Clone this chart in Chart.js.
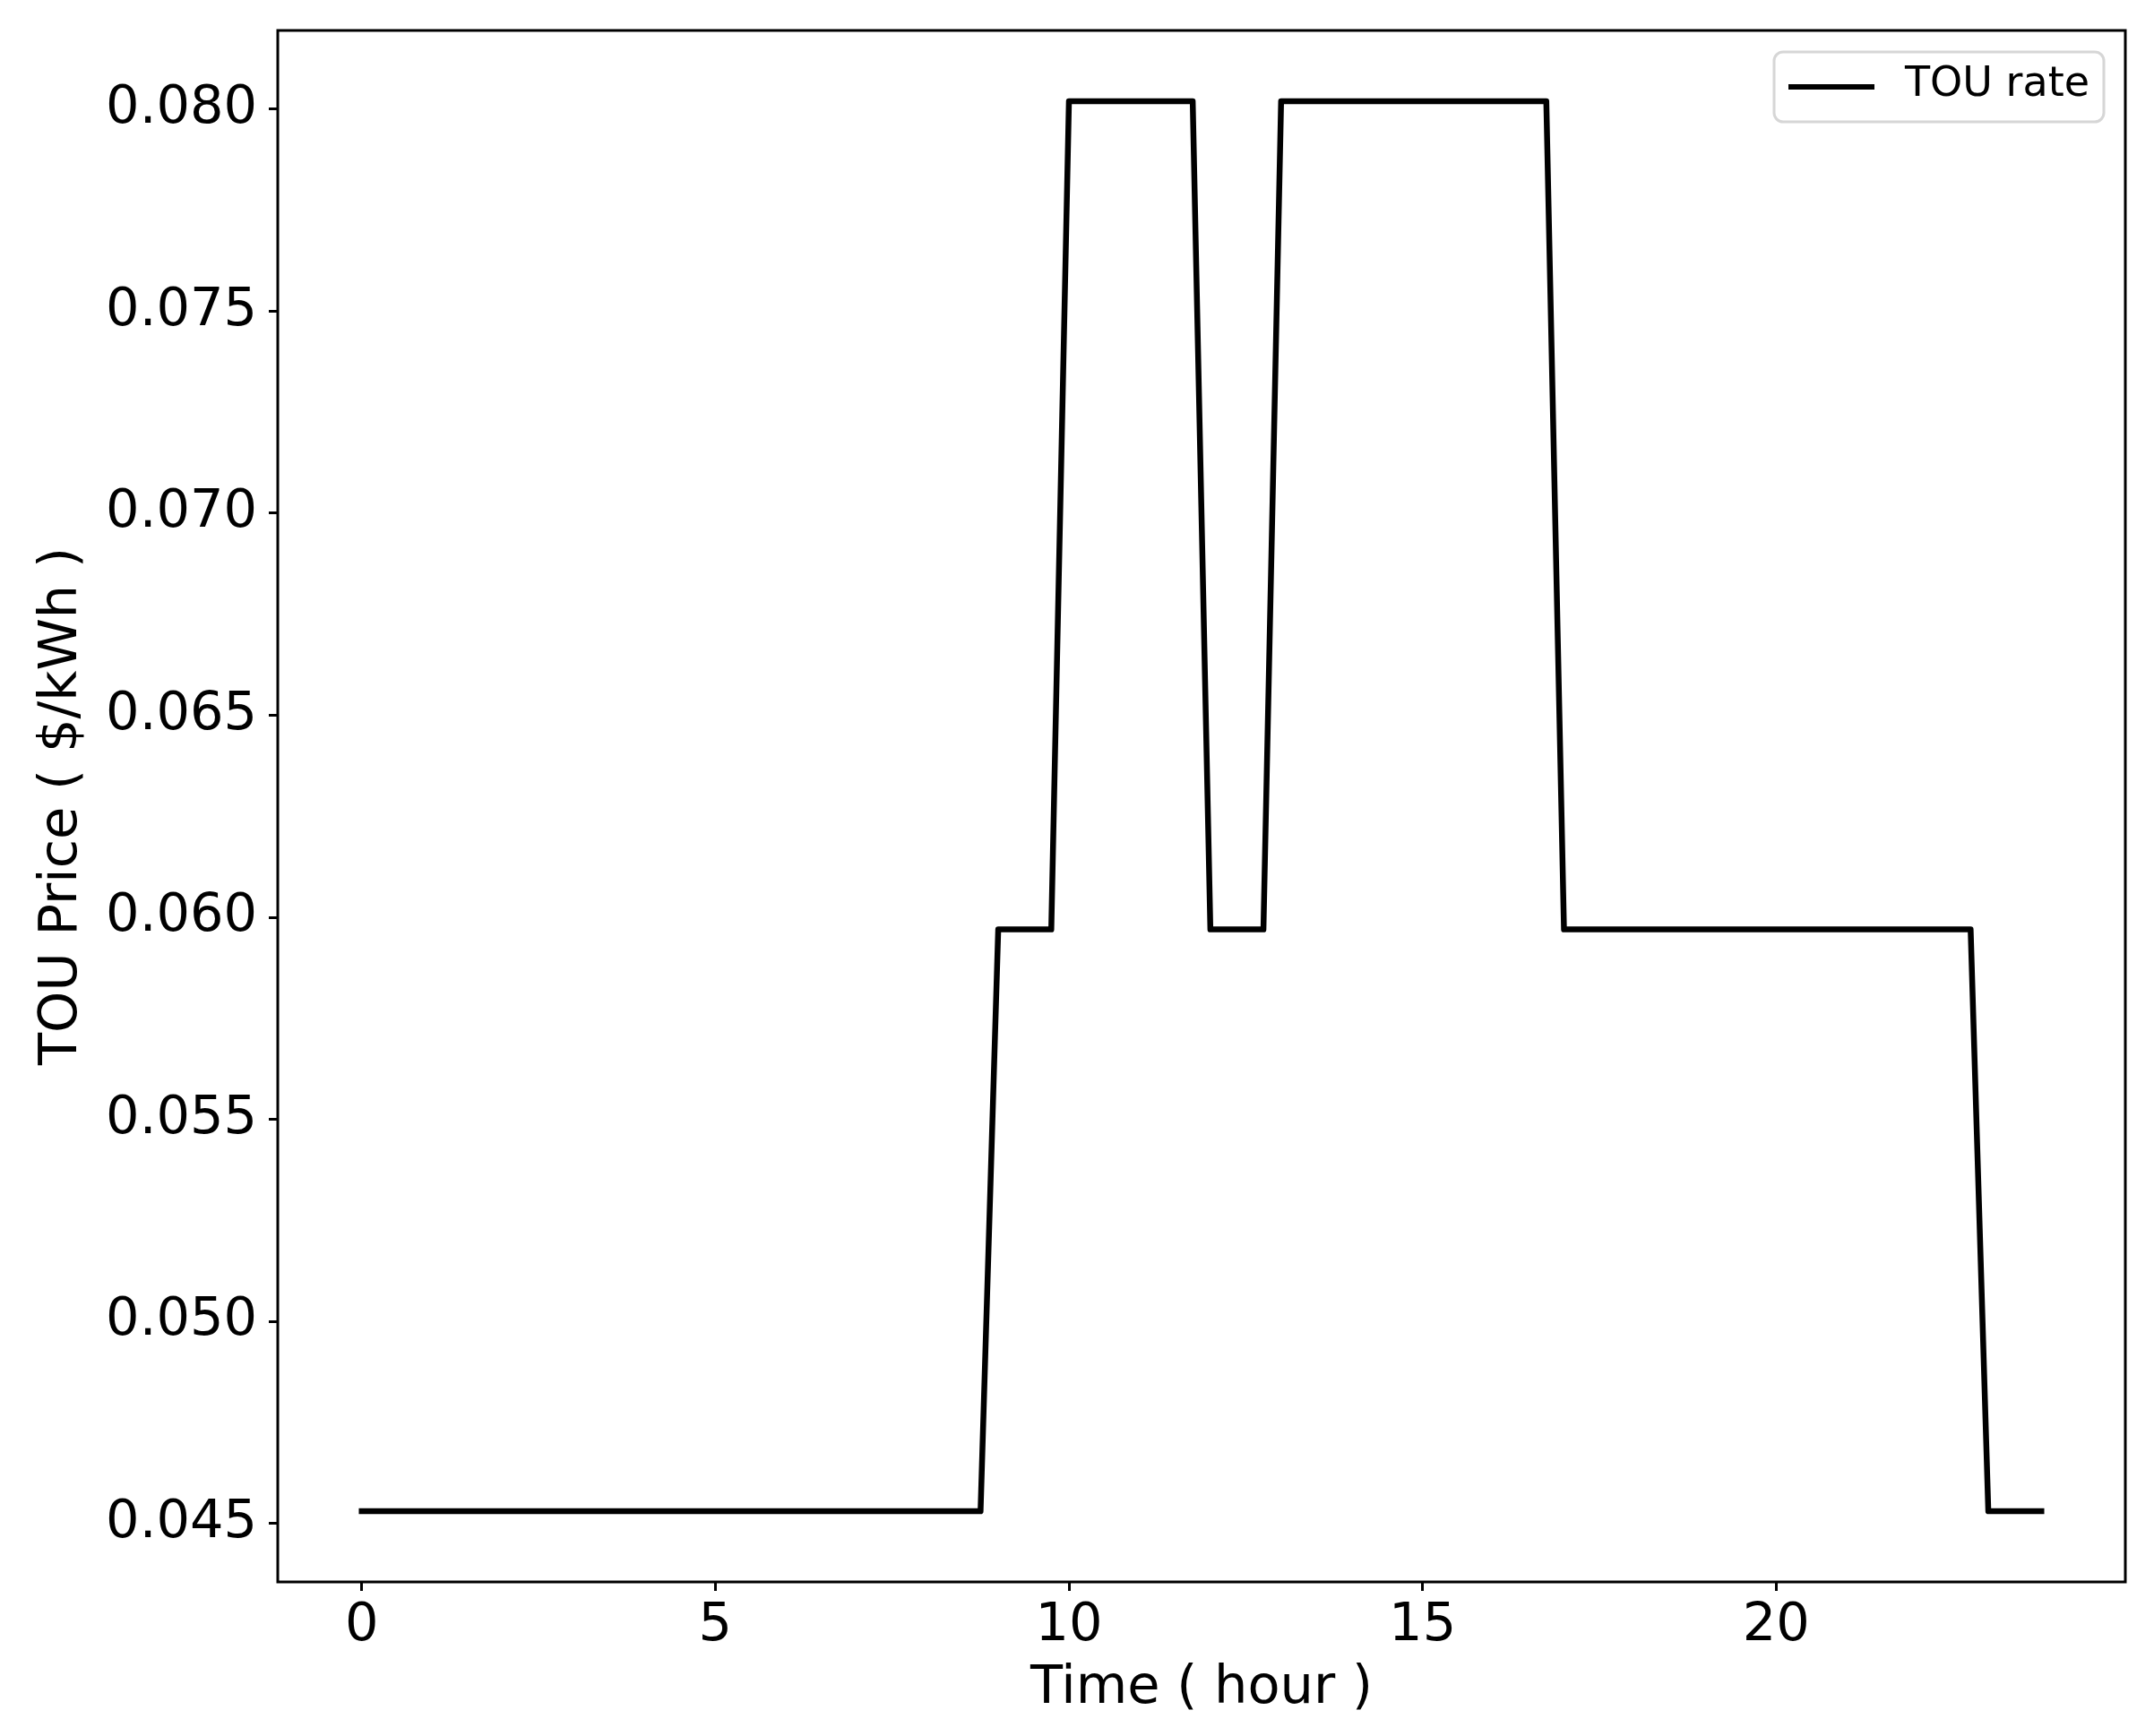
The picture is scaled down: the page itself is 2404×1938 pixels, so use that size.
<!DOCTYPE html>
<html>
<head>
<meta charset="utf-8">
<script src="https://cdn.jsdelivr.net/npm/chart.js@4/dist/chart.umd.min.js"></script>
<style>
   body { margin: 0; background: #ffffff; }
   #wrap { width: 2404px; height: 1938px; }
</style>
</head>
<body>
<div id="wrap"><canvas id="myChart" width="2404" height="1938"></canvas></div>
<script>
// hour of day, one point every 15 minutes
const hours = [
   0, 0.25, 0.5, 0.75, 1, 1.25, 1.5, 1.75, 2, 2.25, 2.5, 2.75,
   3, 3.25, 3.5, 3.75, 4, 4.25, 4.5, 4.75, 5, 5.25, 5.5, 5.75,
   6, 6.25, 6.5, 6.75, 7, 7.25, 7.5, 7.75, 8, 8.25, 8.5, 8.75,
   9, 9.25, 9.5, 9.75, 10, 10.25, 10.5, 10.75, 11, 11.25, 11.5, 11.75,
   12, 12.25, 12.5, 12.75, 13, 13.25, 13.5, 13.75, 14, 14.25, 14.5, 14.75,
   15, 15.25, 15.5, 15.75, 16, 16.25, 16.5, 16.75, 17, 17.25, 17.5, 17.75,
   18, 18.25, 18.5, 18.75, 19, 19.25, 19.5, 19.75, 20, 20.25, 20.5, 20.75,
   21, 21.25, 21.5, 21.75, 22, 22.25, 22.5, 22.75, 23, 23.25, 23.5, 23.75
];

// TOU price ($/kWh)
const touRate = [
   0.0453, 0.0453, 0.0453, 0.0453, 0.0453, 0.0453, 0.0453, 0.0453, 0.0453, 0.0453, 0.0453, 0.0453,
   0.0453, 0.0453, 0.0453, 0.0453, 0.0453, 0.0453, 0.0453, 0.0453, 0.0453, 0.0453, 0.0453, 0.0453,
   0.0453, 0.0453, 0.0453, 0.0453, 0.0453, 0.0453, 0.0453, 0.0453, 0.0453, 0.0453, 0.0453, 0.0453,
   0.0597, 0.0597, 0.0597, 0.0597, 0.0802, 0.0802, 0.0802, 0.0802, 0.0802, 0.0802, 0.0802, 0.0802,
   0.0597, 0.0597, 0.0597, 0.0597, 0.0802, 0.0802, 0.0802, 0.0802, 0.0802, 0.0802, 0.0802, 0.0802,
   0.0802, 0.0802, 0.0802, 0.0802, 0.0802, 0.0802, 0.0802, 0.0802, 0.0597, 0.0597, 0.0597, 0.0597,
   0.0597, 0.0597, 0.0597, 0.0597, 0.0597, 0.0597, 0.0597, 0.0597, 0.0597, 0.0597, 0.0597, 0.0597,
   0.0597, 0.0597, 0.0597, 0.0597, 0.0597, 0.0597, 0.0597, 0.0597, 0.0453, 0.0453, 0.0453, 0.0453
];

const xTicks = [0, 5, 10, 15, 20];
const yTicks = [0.045, 0.050, 0.055, 0.060, 0.065, 0.070, 0.075, 0.080];

const FONT = 'DejaVu Sans';

const getPoints = () => {
   const arr = [];
   for (let i = 0; i < hours.length; ++i) arr.push({ x: hours[i], y: touRate[i] });
   return arr;
}

// black frame round the plot area, like matplotlib spines
const framePlugin = {
   id: 'frame',
   afterDraw: (chart) => {
      const { ctx, chartArea: a } = chart;
      ctx.save();
      ctx.strokeStyle = '#000000';
      ctx.lineWidth = 3;
      ctx.strokeRect(a.left, a.top, a.right - a.left, a.bottom - a.top);
      ctx.restore();
   }
}

// legend box in the upper right corner
const legendPlugin = {
   id: 'boxLegend',
   afterDraw: (chart) => {
      const { ctx, chartArea: a } = chart;
      const ds = chart.data.datasets[0];
      const boxW = 368, boxH = 78;
      const x = a.right - 24 - boxW, y = a.top + 24;
      ctx.save();
      ctx.beginPath();
      ctx.roundRect(x, y, boxW, boxH, 10);
      ctx.fillStyle = 'rgba(255,255,255,0.8)';
      ctx.fill();
      ctx.strokeStyle = '#d6d6d6';
      ctx.lineWidth = 3;
      ctx.stroke();

      ctx.beginPath();
      ctx.moveTo(x + 16, y + 39);
      ctx.lineTo(x + 112, y + 39);
      ctx.strokeStyle = ds.borderColor;
      ctx.lineWidth = 6;
      ctx.stroke();

      ctx.fillStyle = '#000000';
      ctx.font = `46px "${FONT}"`;
      ctx.textBaseline = 'middle';
      ctx.textAlign = 'left';
      ctx.fillText(ds.label, x + 146, y + 37);
      ctx.restore();
   }
}

const config = {
   type: 'line',
   data: {
      datasets: [{
         label: 'TOU rate',
         data: getPoints(),
         borderColor: '#000000',
         borderWidth: 6.5,
         pointRadius: 0,
         tension: 0,
         fill: false,
         borderJoinStyle: 'round',
         borderCapStyle: 'square',
      }]
   },
   options: {
      responsive: false,
      animation: false,
      layout: {
         padding: { left: 0, top: 34, right: 32, bottom: 0 }
      },
      plugins: {
         legend: { display: false },
         tooltip: { enabled: false },
      },
      scales: {
         x: {
            type: 'linear',
            min: -1.1875,
            max: 24.9375,
            afterBuildTicks: (scale) => { scale.ticks = xTicks.map(v => ({ value: v })) },
            afterFit: (scale) => {
               scale.height = 172;
               scale.paddingLeft = 0;
               scale.paddingRight = 0;
            },
            grid: {
               drawOnChartArea: false,
               drawTicks: true,
               tickLength: 10,
               tickWidth: 3,
               tickColor: '#000000',
            },
            border: { display: false },
            ticks: {
               color: '#000000',
               padding: 4,
               maxRotation: 0,
               font: { family: FONT, size: 59 },
               callback: (v) => String(v),
            },
            title: {
               display: true,
               text: 'Time ( hour )',
               color: '#000000',
               font: { family: FONT, size: 59, lineHeight: 1.2 },
               padding: { top: 0, bottom: 17 },
            },
         },
         y: {
            type: 'linear',
            min: 0.04355,
            max: 0.08195,
            afterBuildTicks: (scale) => { scale.ticks = yTicks.map(v => ({ value: v })) },
            afterFit: (scale) => {
               scale.width = 310;
               scale.paddingTop = 0;
               scale.paddingBottom = 0;
            },
            grid: {
               drawOnChartArea: false,
               drawTicks: true,
               tickLength: 10,
               tickWidth: 3,
               tickColor: '#000000',
            },
            border: { display: false },
            ticks: {
               color: '#000000',
               padding: 13,
               font: { family: FONT, size: 59 },
               callback: (v) => v.toFixed(3),
            },
            title: {
               display: true,
               text: 'TOU Price ( $/kWh )',
               color: '#000000',
               font: { family: FONT, size: 59, lineHeight: 1.2 },
               padding: { top: 34, bottom: 0 },
            },
         }
      }
   },
   plugins: [framePlugin, legendPlugin]
};

const ctx = document.getElementById('myChart').getContext('2d');
const myChart = new Chart(ctx, config);
</script>
</body>
</html>
